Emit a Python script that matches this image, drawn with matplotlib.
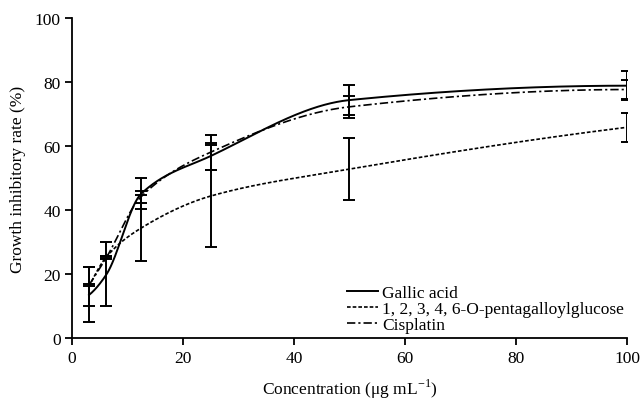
import numpy as np
import matplotlib
matplotlib.use("Agg")
import matplotlib.pyplot as plt

plt.rcParams["font.family"] = ["Liberation Serif", "DejaVu Serif"]
plt.rcParams["mathtext.fontset"] = "custom"
plt.rcParams["mathtext.rm"] = "Liberation Serif"
plt.rcParams["font.size"] = 12.5

# ---- data -------------------------------------------------------------------
conc = [3.125, 6.25, 12.5, 25, 50, 100]
gallic = [13.6, 20.0, 45.2, 57.0, 74.5, 79.0]
gallic_err = [8.6, 10.0, 4.8, 4.2, 4.6, 4.6]
pgg = [16.2, 25.5, 34.5, 44.5, 52.9, 66.0]
pgg_err = [6.0, 0.4, 10.3, 15.9, 9.6, 4.6]
cis = [16.7, 25.3, 44.3, 58.2, 72.4, 77.8]
cis_err = [0.3, 0.5, 1.9, 5.4, 3.5, 3.0]


def pchip(x, y, xs):
    # monotone piecewise cubic (Fritsch-Carlson), like scipy's PchipInterpolator
    x = np.asarray(x, float)
    y = np.asarray(y, float)
    h = np.diff(x)
    d = np.diff(y) / h
    n = len(x)
    m = np.zeros(n)
    for i in range(1, n - 1):
        if d[i - 1] * d[i] > 0:
            w1 = 2 * h[i] + h[i - 1]
            w2 = h[i] + 2 * h[i - 1]
            m[i] = (w1 + w2) / (w1 / d[i - 1] + w2 / d[i])

    def edge(h0, h1, d0, d1):
        s = ((2 * h0 + h1) * d0 - h0 * d1) / (h0 + h1)
        if np.sign(s) != np.sign(d0):
            return 0.0
        if np.sign(d0) != np.sign(d1) and abs(s) > abs(3 * d0):
            return 3 * d0
        return s

    m[0] = edge(h[0], h[1], d[0], d[1])
    m[-1] = edge(h[-1], h[-2], d[-1], d[-2])
    k = np.clip(np.searchsorted(x, xs) - 1, 0, n - 2)
    t = (xs - x[k]) / h[k]
    h00 = 2 * t ** 3 - 3 * t ** 2 + 1
    h10 = t ** 3 - 2 * t ** 2 + t
    h01 = -2 * t ** 3 + 3 * t ** 2
    h11 = t ** 3 - t ** 2
    return h00 * y[k] + h10 * h[k] * m[k] + h01 * y[k + 1] + h11 * h[k] * m[k + 1]


xs = np.linspace(conc[0], conc[-1], 600)

fig = plt.figure(figsize=(6.41, 4.02), dpi=100)
ax = fig.add_axes([0.1118, 0.1555, 0.8665, 0.796])

ax.plot(xs, pchip(conc, gallic, xs), color="black", lw=1.4,
        label="Gallic acid")
ax.plot(xs, pchip(conc, pgg, xs), color="black", lw=1.2,
        dashes=(2.2, 1.2), label="1, 2, 3, 4, 6-O-pentagalloylglucose")
ax.plot(xs, pchip(conc, cis, xs), color="black", lw=1.2,
        dashes=(5, 1.8, 1.3, 1.8), label="Cisplatin")

for m, e in [(gallic, gallic_err), (pgg, pgg_err), (cis, cis_err)]:
    ax.errorbar(conc, m, yerr=e, fmt="none", ecolor="black", elinewidth=1.4,
                capsize=4, capthick=1.4)

ax.set_xlim(0, 100)
ax.set_ylim(0, 100)
ax.set_xticks([0, 20, 40, 60, 80, 100])
ax.set_yticks([0, 20, 40, 60, 80, 100])
for s in ["top", "right"]:
    ax.spines[s].set_visible(False)
for s in ["left", "bottom"]:
    ax.spines[s].set_linewidth(1.3)
ax.tick_params(direction="out", length=5, width=1.3, colors="black", pad=3)
ax.set_xlabel("Concentration (μg mL$^{-1}$)", labelpad=8)
ax.set_ylabel("Growth inhibitory rate (%)", labelpad=6)

ax.legend(loc="center left", bbox_to_anchor=(0.496, 0.092), frameon=False,
          borderpad=0, borderaxespad=0, handlelength=1.8, handletextpad=0.2,
          labelspacing=0.0)

fig.savefig("out.png", dpi=100)
